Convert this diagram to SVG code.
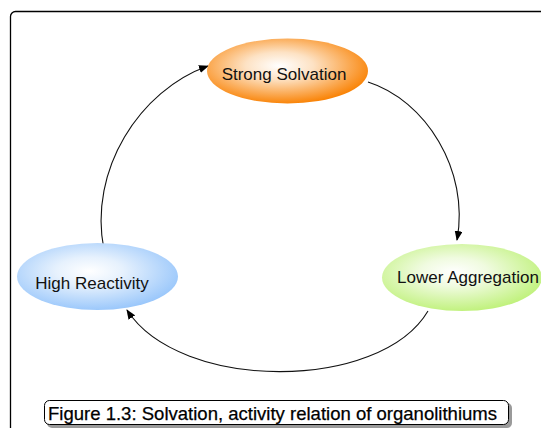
<svg xmlns="http://www.w3.org/2000/svg" width="541" height="428" viewBox="0 0 541 428">
<defs>
<radialGradient id="gO" cx="0.45" cy="0.42" r="0.6">
<stop offset="0" stop-color="#ffffff"/><stop offset="0.35" stop-color="#fde2c4"/><stop offset="1" stop-color="#f98000"/>
</radialGradient>
<radialGradient id="gB" cx="0.45" cy="0.42" r="0.6">
<stop offset="0" stop-color="#ffffff"/><stop offset="0.35" stop-color="#e6f1fd"/><stop offset="1" stop-color="#98c6fb"/>
</radialGradient>
<radialGradient id="gG" cx="0.45" cy="0.42" r="0.6">
<stop offset="0" stop-color="#ffffff"/><stop offset="0.35" stop-color="#f0fbe0"/><stop offset="1" stop-color="#bff17a"/>
</radialGradient>
<marker id="arr" markerWidth="10" markerHeight="8" refX="9" refY="4" orient="auto" markerUnits="userSpaceOnUse">
<path d="M0,0 L10,4 L0,8 Z" fill="#000"/>
</marker>
</defs>
<style>
.lbl{font-family:"Liberation Sans",Arial,sans-serif;font-size:17px;fill:#111;text-anchor:middle}
.con{fill:none;stroke:#111;stroke-width:1.1;marker-end:url(#arr)}
</style>
<rect x="10.5" y="11.5" width="560" height="450" rx="5" fill="#fff" stroke="#000" stroke-width="1.3"/>
<g id="connectors">
<path class="con" d="M368,82 C425,100 470,170 457,240"/>
<path class="con" d="M428,311 C380,392 180,392 127,310"/>
<path class="con" d="M104,250 C88,170 140,90 208,66"/>
</g>
<g id="strong-solvation">
<ellipse cx="287.5" cy="71" rx="80.5" ry="32.5" fill="url(#gO)"/>
<text class="lbl" x="284" y="80">Strong Solvation</text>
</g>
<g id="lower-aggregation">
<ellipse cx="462" cy="277.5" rx="80" ry="33.5" fill="url(#gG)"/>
<text class="lbl" x="468" y="283">Lower Aggregation</text>
</g>
<g id="high-reactivity">
<ellipse cx="97.5" cy="276.5" rx="80.5" ry="33.5" fill="url(#gB)"/>
<text class="lbl" x="92" y="289">High Reactivity</text>
</g>
<g id="caption">
<rect x="47" y="403" width="465" height="25" rx="5" fill="#9a9a9a"/>
<rect x="44.5" y="400.5" width="464" height="24" rx="5" fill="#fff" stroke="#000" stroke-width="1"/>
<text x="48" y="419.5" font-family="'Liberation Sans',Arial,sans-serif" font-size="19" fill="#000" stroke="#000" stroke-width="0.25" textLength="449" lengthAdjust="spacingAndGlyphs">Figure 1.3: Solvation, activity relation of organolithiums</text>
</g>
</svg>
